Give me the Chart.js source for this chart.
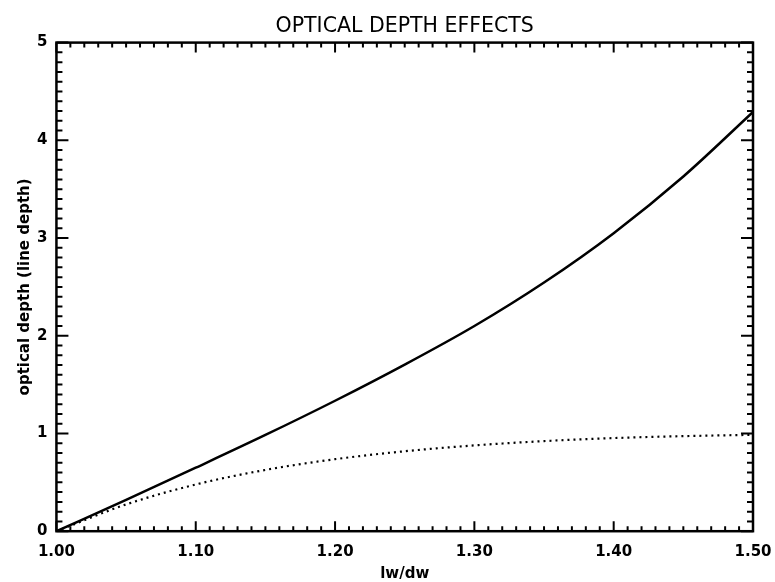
<!DOCTYPE html>
<html>
<head>
<meta charset="utf-8">
<script src="https://cdn.jsdelivr.net/npm/chart.js@4.4.1/dist/chart.umd.min.js"></script>
<style>
html,body{margin:0;padding:0;background:#fff;}
#wrap{width:775px;height:582px;}
</style>
</head>
<body>
<div id="wrap"><canvas id="c" width="775" height="582"></canvas></div>
<script>
// ---- data ----
const lwOverDw     = [1.00, 1.05, 1.10, 1.15, 1.20, 1.25, 1.30, 1.35, 1.40, 1.45, 1.50];
const solidDepth   = [0.000, 0.320, 0.650, 0.985, 1.335, 1.705, 2.100, 2.545, 3.050, 3.630, 4.290];
const dottedDepth  = [0.000, 0.274, 0.478, 0.627, 0.737, 0.818, 0.878, 0.922, 0.953, 0.973, 0.986];

const xTickValues = [1.00, 1.10, 1.20, 1.30, 1.40, 1.50];
const xTickLabels = ['1.00', '1.10', '1.20', '1.30', '1.40', '1.50'];
const yTickValues = [0, 1, 2, 3, 4, 5];
const yTickLabels = ['0', '1', '2', '3', '4', '5'];
const xMinorPerMajor = 10;
const yMinorPerMajor = 10;

const titleText = 'OPTICAL DEPTH EFFECTS';
const xTitle = 'lw/dw';
const yTitle = 'optical depth (line depth)';

// ---- build ----
const toPoints = (xs, ys) => xs.map((v, i) => ({x: v, y: ys[i]}));

function minorValues(majors, per) {
  const out = [];
  for (let i = 0; i < majors.length - 1; i++) {
    const a = majors[i], b = majors[i + 1];
    for (let k = 1; k < per; k++) out.push(a + (b - a) * k / per);
  }
  return out;
}
const xMinor = minorValues(xTickValues, xMinorPerMajor);
const yMinor = minorValues(yTickValues, yMinorPerMajor);

const frameTicks = {
  id: 'frameTicks',
  afterDatasetsDraw(chart) {
    const {ctx, chartArea: a, scales: {x, y}} = chart;
    ctx.save();
    ctx.strokeStyle = '#000';
    ctx.lineWidth = 2;
    ctx.lineCap = 'butt';
    ctx.beginPath();
    const seg = (x1, y1, x2, y2) => { ctx.moveTo(x1, y1); ctx.lineTo(x2, y2); };
    xTickValues.forEach(v => {
      const p = x.getPixelForValue(v);
      seg(p, a.bottom, p, a.bottom - 10);
      seg(p, a.top, p, a.top + 10);
    });
    xMinor.forEach(v => {
      const p = x.getPixelForValue(v);
      seg(p, a.bottom, p, a.bottom - 5);
      seg(p, a.top, p, a.top + 5);
    });
    yTickValues.forEach(v => {
      const p = y.getPixelForValue(v);
      seg(a.left, p, a.left + 12, p);
      seg(a.right, p, a.right - 12, p);
    });
    yMinor.forEach(v => {
      const p = y.getPixelForValue(v);
      seg(a.left, p, a.left + 6, p);
      seg(a.right, p, a.right - 6, p);
    });
    ctx.stroke();
    ctx.lineWidth = 2.5;
    ctx.strokeRect(a.left, a.top, a.right - a.left, a.bottom - a.top);
    ctx.restore();
  }
};

Chart.defaults.font.family = "'DejaVu Sans', sans-serif";
Chart.defaults.color = '#000';

new Chart(document.getElementById('c'), {
  type: 'line',
  data: {
    datasets: [
      {
        label: 'optical depth',
        data: toPoints(lwOverDw, solidDepth),
        borderColor: '#000',
        borderWidth: 2.5,
        pointRadius: 0,
        fill: false,
        cubicInterpolationMode: 'monotone'
      },
      {
        label: 'line depth',
        data: toPoints(lwOverDw, dottedDepth),
        borderColor: '#000',
        borderWidth: 2.2,
        borderDash: [2, 4],
        borderCapStyle: 'butt',
        pointRadius: 0,
        fill: false,
        cubicInterpolationMode: 'monotone'
      }
    ]
  },
  options: {
    responsive: false,
    animation: false,
    devicePixelRatio: 1,
    layout: { padding: { left: 13, right: 22, top: 0, bottom: 0 } },
    plugins: {
      legend: { display: false },
      tooltip: { enabled: false },
      title: {
        display: true,
        fullSize: false,
        text: titleText,
        color: '#000',
        font: { family: "'DejaVu Sans', sans-serif", size: 20.5, weight: 'normal' },
        padding: { top: 14, bottom: 4 }
      }
    },
    scales: {
      x: {
        type: 'linear',
        min: 1.0,
        max: 1.5,
        afterBuildTicks: (s) => { s.ticks = xTickValues.map(v => ({value: v})); },
        afterFit: (s) => { s.paddingRight = 0; s.paddingLeft = 0; },
        ticks: {
          font: { size: 15, weight: 'bold' },
          color: '#000',
          padding: 12,
          maxRotation: 0,
          autoSkip: false,
          callback: (v) => { const i = xTickValues.findIndex(t => Math.abs(t - v) < 1e-9); return i >= 0 ? xTickLabels[i] : ''; }
        },
        grid: { display: false, drawTicks: false },
        border: { display: false },
        title: {
          display: true,
          text: xTitle,
          color: '#000',
          font: { size: 15, weight: 'bold', lineHeight: 1 },
          padding: { top: -7, bottom: 0.8 }
        }
      },
      y: {
        type: 'linear',
        min: 0,
        max: 5,
        afterBuildTicks: (s) => { s.ticks = yTickValues.map(v => ({value: v})); },
        ticks: {
          font: { size: 15, weight: 'bold' },
          color: '#000',
          padding: 9,
          autoSkip: false,
          callback: (v) => { const i = yTickValues.findIndex(t => Math.abs(t - v) < 1e-9); return i >= 0 ? yTickLabels[i] : ''; }
        },
        grid: { display: false, drawTicks: false },
        border: { display: false },
        title: {
          display: true,
          text: yTitle,
          color: '#000',
          font: { size: 15, weight: 'bold' },
          padding: { top: 3, bottom: -6 }
        }
      }
    }
  },
  plugins: [frameTicks]
});
</script>
</body>
</html>
